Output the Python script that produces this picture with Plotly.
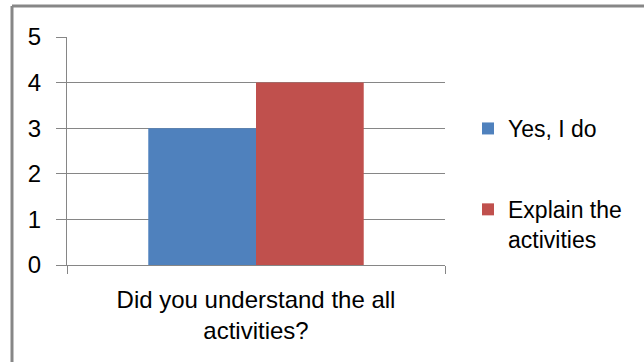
import plotly.graph_objects as go

categories = ["Did you understand the all<br>activities?"]
series_names = ["Yes, I do", "Explain the<br>activities"]
series_values = [[3], [4]]
colors = ["#4F81BD", "#C0504D"]
y_ticks = [0, 1, 2, 3, 4, 5]

FONT = "Liberation Sans, Arial, sans-serif"
GRID = "#868686"

fig = go.Figure()
for i, (name, vals) in enumerate(zip(series_names, series_values)):
    fig.add_trace(go.Bar(
        x=categories, y=vals, name=name,
        marker=dict(color=colors[i], line=dict(width=0)),
        legendgroup=f"g{i}",
    ))

W, H = 644, 362
L, R, T, B = 67, 199, 37, 97
pw, ph = W - L - R, H - T - B

fig.update_layout(
    width=W, height=H,
    margin=dict(l=L, r=R, t=T, b=B, pad=0),
    paper_bgcolor="white", plot_bgcolor="white",
    barmode="group", bargap=0.43, bargroupgap=0,
    font=dict(family=FONT, size=24, color="#000000"),
    showlegend=True,
    legend=dict(
        x=(468 - L) / pw, xanchor="left",
        y=1 - (107 - T) / ph, yanchor="top",
        traceorder="grouped", tracegroupgap=48,
        valign="top",
        font=dict(family=FONT, size=23, color="#000000"),
        bgcolor="rgba(0,0,0,0)",
    ),
    xaxis=dict(
        showgrid=False, showline=True, linecolor=GRID, linewidth=1,
        ticks="outside", tickson="boundaries", ticklen=8, tickcolor=GRID,
        tickfont=dict(family=FONT, size=24),
        ticklabelstandoff=13,
        range=[-0.5, 0.5], fixedrange=True,
    ),
    yaxis=dict(
        range=[0, 5], tickvals=y_ticks, ticktext=[str(v) for v in y_ticks],
        showgrid=True, gridcolor=GRID, gridwidth=1,
        showline=True, linecolor=GRID, linewidth=1,
        ticks="outside", ticklen=10, tickcolor=GRID,
        tickfont=dict(family=FONT, size=24),
        ticklabelstandoff=10,
        zeroline=False, fixedrange=True,
    ),
    shapes=[
        dict(type="line", xref="paper", yref="paper",
             x0=(12 - L) / pw, x1=(W + 5 - L) / pw,
             y0=1 + (T - 6) / ph, y1=1 + (T - 6) / ph,
             line=dict(color="#878787", width=3)),
        dict(type="line", xref="paper", yref="paper",
             x0=(12 - L) / pw, x1=(12 - L) / pw,
             y0=1 + (T - 6) / ph, y1=-(H + 5 - T - ph) / ph,
             line=dict(color="#878787", width=3)),
    ],
)

fig.write_html("out.html")
